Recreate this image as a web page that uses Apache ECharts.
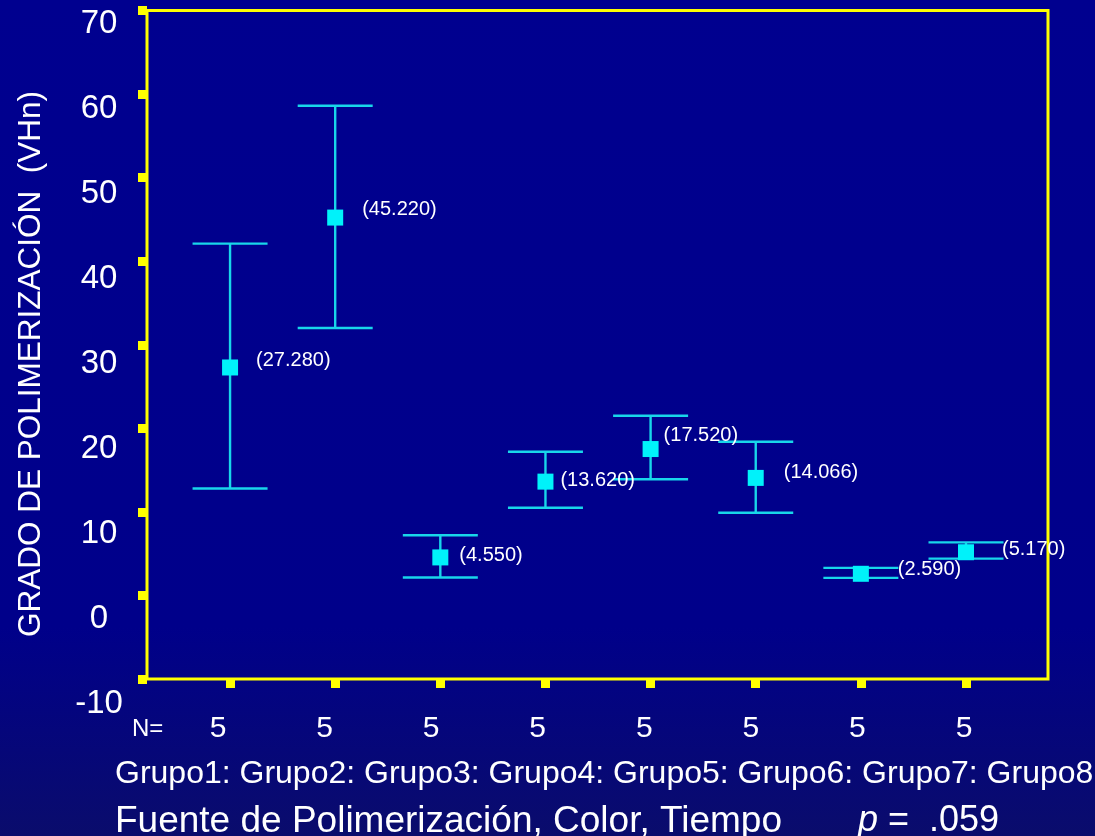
<!DOCTYPE html>
<html>
<head>
<meta charset="utf-8">
<script src="https://cdn.jsdelivr.net/npm/echarts@6/dist/echarts.min.js"></script>
<style>
html,body{margin:0;padding:0;background:#000088;}
#chart{width:1095px;height:836px;}
</style>
</head>
<body>
<div id="chart"></div>
<script>
// ---- data ----
const categories = ['Grupo1', 'Grupo2', 'Grupo3', 'Grupo4', 'Grupo5', 'Grupo6', 'Grupo7', 'Grupo8'];
const nCounts = [5, 5, 5, 5, 5, 5, 5, 5];
const means = [27.280, 45.220, 4.550, 13.620, 17.520, 14.066, 2.590, 5.170];
const lowerCI = [12.8, 32.0, 2.15, 10.5, 13.9, 9.9, 2.1, 4.4];
const upperCI = [42.1, 58.6, 7.2, 17.2, 21.5, 18.4, 3.3, 6.35];
const yTicks = [-10, 0, 10, 20, 30, 40, 50, 60, 70];

// ---- style config (label nudges relative to marker) ----
const labelNudge = [[18, -7], [19, -8], [11, -2], [7, -1], [5, -14], [20, -5], [29, -4], [28, -3]];

const FONT = 'Liberation Sans, Arial, Helvetica, sans-serif';
const YELLOW = '#ffff00';
const CYAN_LINE = '#18d6ea';
const CYAN_MARK = '#00f2fa';

const xVals = categories.map((c, i) => i + 1);
const errData = categories.map((c, i) => [xVals[i], lowerCI[i], upperCI[i]]);
const meanData = categories.map((c, i) => ({
  value: [xVals[i], means[i]],
  label: { offset: labelNudge[i] }
}));

const chart = echarts.init(document.getElementById('chart'), null, { renderer: 'canvas' });

const option = {
  animation: false,
  backgroundColor: {
    type: 'linear', x: 0, y: 0, x2: 0, y2: 1,
    colorStops: [
      { offset: 0, color: '#00008f' },
      { offset: 0.75, color: '#00008a' },
      { offset: 1, color: '#0a0c6c' }
    ]
  },
  textStyle: { fontFamily: FONT },
  title: [
    { text: 'N=', left: 132, top: 717, padding: 0,
      textStyle: { color: '#ffffff', fontSize: 24, fontWeight: 'normal', fontFamily: FONT } },
    { text: categories.join(': '), left: 115, top: 758, padding: 0,
      textStyle: { color: '#ffffff', fontSize: 32, fontWeight: 'normal', fontFamily: FONT } },
    { text: 'Fuente de Polimerización, Color, Tiempo', left: 115, top: 803, padding: 0,
      textStyle: { color: '#ffffff', fontSize: 37, fontWeight: 'normal', fontFamily: FONT } },
    { text: '{i|p} =  .059', left: 858, top: 803, padding: 0,
      textStyle: { color: '#ffffff', fontSize: 36, fontWeight: 'normal', fontFamily: FONT,
        rich: { i: { fontStyle: 'italic', fontSize: 36, color: '#ffffff', fontFamily: FONT } } } }
  ],
  grid: [
    { left: 147, right: 47, top: 10.5, bottom: 157, show: true, borderColor: YELLOW, borderWidth: 3, backgroundColor: 'transparent' },
    { left: 147, right: 47, top: 24, bottom: 132, show: false },
    { left: 218, right: 131, top: 10.5, bottom: 157, show: false }
  ],
  xAxis: [
    { gridIndex: 0, type: 'value', min: 0.21, max: 8.78, position: 'bottom',
      axisLine: { show: false, onZero: false }, splitLine: { show: false },
      axisLabel: { show: false },
      axisTick: { show: true, inside: false, length: 9, customValues: xVals,
        lineStyle: { color: YELLOW, width: 9 } } },
    { gridIndex: 1, type: 'value', min: 0, max: 1, show: false },
    { gridIndex: 2, type: 'value', min: 1, max: 8, interval: 1, position: 'bottom',
      axisLine: { show: false, onZero: false }, axisTick: { show: false }, splitLine: { show: false },
      axisLabel: { show: true, margin: 35, color: '#ffffff', fontSize: 30, fontFamily: FONT,
        formatter: v => String(nCounts[Math.round(v) - 1]) } }
  ],
  yAxis: [
    { gridIndex: 0, type: 'value', min: -10, max: 70, interval: 10,
      axisLine: { show: false, onZero: false }, splitLine: { show: false },
      axisLabel: { show: false },
      axisTick: { show: true, inside: false, length: 9,
        lineStyle: { color: YELLOW, width: 9 } } },
    { gridIndex: 1, type: 'value', min: yTicks[0], max: yTicks[yTicks.length - 1], interval: 10,
      axisLine: { show: false, onZero: false }, axisTick: { show: false }, splitLine: { show: false },
      axisLabel: { show: true, color: '#ffffff', fontSize: 33, fontFamily: FONT, align: 'center', margin: 48 },
      name: 'GRADO DE POLIMERIZACIÓN  (VHn)', nameLocation: 'middle', nameRotate: 90, nameGap: 100,
      nameMoveOverlap: false,
      nameTextStyle: { color: '#ffffff', fontSize: 31.5, fontFamily: FONT } },
    { gridIndex: 2, type: 'value', min: 0, max: 1, show: false }
  ],
  series: [
    {
      type: 'custom',
      xAxisIndex: 0, yAxisIndex: 0,
      data: errData,
      z: 2,
      renderItem: function (params, api) {
        const x = api.value(0);
        const lo = api.coord([x, api.value(1)]);
        const hi = api.coord([x, api.value(2)]);
        const half = 37.5;
        const style = { stroke: CYAN_LINE, lineWidth: 2.4 };
        return {
          type: 'group',
          children: [
            { type: 'line', shape: { x1: hi[0], y1: hi[1], x2: lo[0], y2: lo[1] }, style: style },
            { type: 'line', shape: { x1: hi[0] - half, y1: hi[1], x2: hi[0] + half, y2: hi[1] }, style: style },
            { type: 'line', shape: { x1: lo[0] - half, y1: lo[1], x2: lo[0] + half, y2: lo[1] }, style: style }
          ]
        };
      }
    },
    {
      type: 'scatter',
      xAxisIndex: 0, yAxisIndex: 0,
      symbol: 'rect',
      symbolSize: 16,
      z: 3,
      itemStyle: { color: CYAN_MARK, opacity: 1 },
      label: {
        show: true, position: 'right', distance: 0,
        color: '#ffffff', fontSize: 20, fontFamily: FONT,
        align: 'left', verticalAlign: 'middle',
        formatter: p => '(' + p.value[1].toFixed(3) + ')'
      },
      emphasis: { disabled: true },
      data: meanData
    }
  ]
};

chart.setOption(option);
</script>
</body>
</html>
